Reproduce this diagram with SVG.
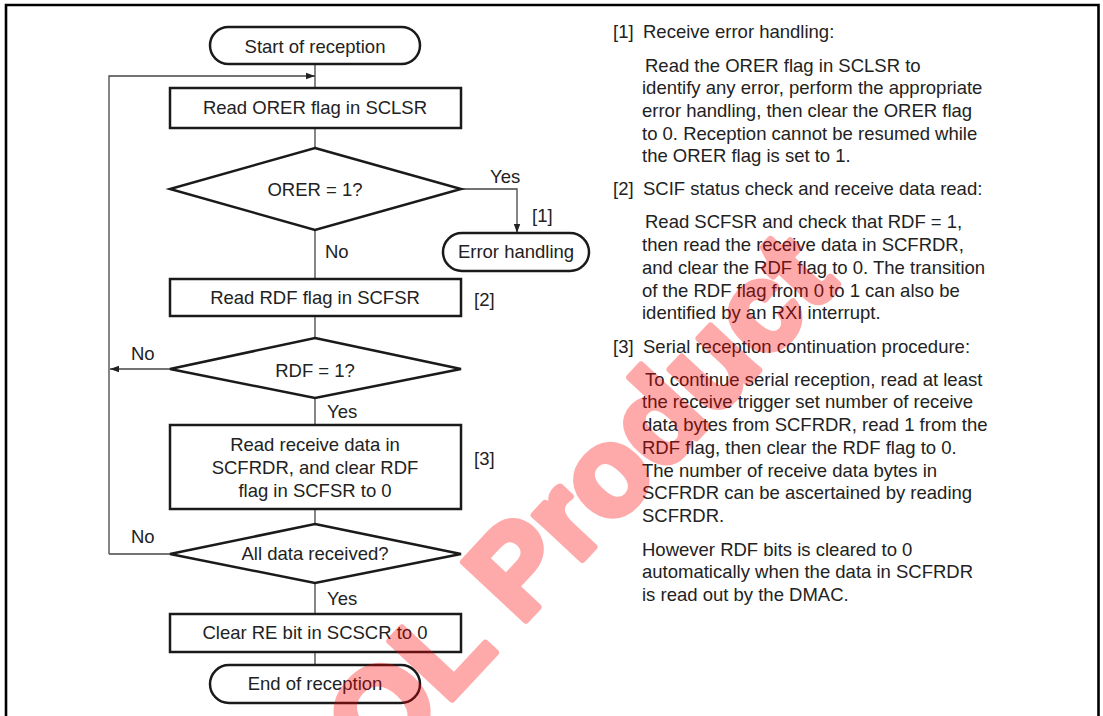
<svg xmlns="http://www.w3.org/2000/svg" width="1103" height="716" viewBox="0 0 1103 716">
<defs>
<style>
text{font-family:"Liberation Sans",Arial,sans-serif;font-size:18.5px;fill:#222}
.c{text-anchor:middle}
.box{fill:#fff;stroke:#1a1a1a;stroke-width:2.5}
.ln{fill:none;stroke:#444;stroke-width:1.3}
.wm{font-family:"Liberation Sans",Arial,sans-serif;font-weight:bold;font-size:124px;fill:#ff0000;stroke:#ff0000;stroke-width:7;stroke-linejoin:round;text-anchor:middle}
</style>
<marker id="ah" markerWidth="10" markerHeight="8" refX="9" refY="4" orient="auto" markerUnits="userSpaceOnUse">
<path d="M0,0.8 L9,4 L0,7.2 Z" fill="#222"/>
</marker>
</defs>
<rect width="1103" height="716" fill="#fff"/>
<path d="M6,716 V5 H1098.5 V716" fill="none" stroke="#000" stroke-width="2.6"/>

<g id="connectors">
<path class="ln" d="M315,64 V128"/>
<path class="ln" d="M109,554 V76 H315" marker-end="url(#ah)"/>
<path class="ln" d="M315,128 V148"/>
<path class="ln" d="M461,189 H517 V233" marker-end="url(#ah)"/>
<path class="ln" d="M315,230 V279"/>
<path class="ln" d="M315,316 V338"/>
<path class="ln" d="M170,369 H110" marker-end="url(#ah)"/>
<path class="ln" d="M315,398 V425"/>
<path class="ln" d="M315,509 V524"/>
<path class="ln" d="M170,554 H109"/>
<path class="ln" d="M315,583 V614"/>
<path class="ln" d="M315,652 V665"/>
<text x="490" y="183">Yes</text>
<text x="532" y="222">[1]</text>
<text x="325" y="258">No</text>
<text x="131" y="360">No</text>
<text x="327" y="418">Yes</text>
<text x="131" y="543">No</text>
<text x="327" y="605">Yes</text>
<text x="474" y="306">[2]</text>
<text x="474" y="465">[3]</text>
</g>

<g id="start">
<rect class="box" x="210" y="27" width="210" height="37" rx="18.5"/>
<text class="c" x="315" y="53">Start of reception</text>
</g>
<g id="read-orer">
<rect class="box" x="170" y="88" width="291" height="40"/>
<text class="c" x="315" y="114">Read ORER flag in SCLSR</text>
</g>
<g id="orer-check">
<polygon class="box" points="315,148 461,189 315,230 170,189"/>
<text class="c" x="315" y="196">ORER = 1?</text>
</g>
<g id="error-handling">
<rect class="box" x="443" y="233" width="146" height="38" rx="19"/>
<text class="c" x="516" y="258">Error handling</text>
</g>
<g id="read-rdf">
<rect class="box" x="170" y="279" width="291" height="37"/>
<text class="c" x="315" y="304">Read RDF flag in SCFSR</text>
</g>
<g id="rdf-check">
<polygon class="box" points="315,338 461,369 315,398 170,369"/>
<text class="c" x="315" y="377">RDF = 1?</text>
</g>
<g id="read-data">
<rect class="box" x="170" y="425" width="291" height="84"/>
<text class="c" x="315" y="451">Read receive data in</text>
<text class="c" x="315" y="474">SCFRDR, and clear RDF</text>
<text class="c" x="315" y="497">flag in SCFSR to 0</text>
</g>
<g id="all-data-check">
<polygon class="box" points="315,524 461,554 315,583 170,554"/>
<text class="c" x="315" y="560">All data received?</text>
</g>
<g id="clear-re">
<rect class="box" x="170" y="614" width="291" height="38"/>
<text class="c" x="315" y="639">Clear RE bit in SCSCR to 0</text>
</g>
<g id="end">
<rect class="box" x="210" y="665" width="210" height="38" rx="19"/>
<text class="c" x="315" y="690">End of reception</text>
</g>

<g id="notes">
<text x="613" y="38">[1]</text><text x="643" y="38">Receive error handling:</text>
<text x="645" y="72">Read  the ORER flag in SCLSR to</text>
<text x="642" y="94">identify any error, perform the appropriate</text>
<text x="642" y="117">error handling, then clear the ORER flag</text>
<text x="642" y="140">to 0. Reception cannot be resumed while</text>
<text x="642" y="162">the ORER flag is set to 1.</text>
<text x="613" y="195">[2]</text><text x="643" y="195">SCIF status check and receive data read:</text>
<text x="645" y="228">Read SCFSR and check that RDF = 1,</text>
<text x="642" y="251">then read the receive data in SCFRDR,</text>
<text x="642" y="274">and clear the RDF flag to 0. The transition</text>
<text x="642" y="297">of the RDF flag from 0 to 1 can also be</text>
<text x="642" y="319">identified by an RXI interrupt.</text>
<text x="613" y="353">[3]</text><text x="643" y="353">Serial reception continuation procedure:</text>
<text x="645" y="386">To continue serial reception, read at least</text>
<text x="642" y="408">the receive trigger set number of receive</text>
<text x="642" y="431">data bytes from SCFRDR, read 1 from the</text>
<text x="642" y="454">RDF flag, then clear the RDF flag to 0.</text>
<text x="642" y="477">The number of receive data bytes in</text>
<text x="642" y="499">SCFRDR can be ascertained by reading</text>
<text x="642" y="522">SCFRDR.</text>
<text x="642" y="556">However RDF bits is cleared to 0</text>
<text x="642" y="578">automatically when the data in SCFRDR</text>
<text x="642" y="601">is read out by the DMAC.</text>
</g>

<g id="watermark" opacity="0.33">
<text class="wm" transform="translate(582,560) rotate(-47)">EOL Product</text>
</g>
</svg>
